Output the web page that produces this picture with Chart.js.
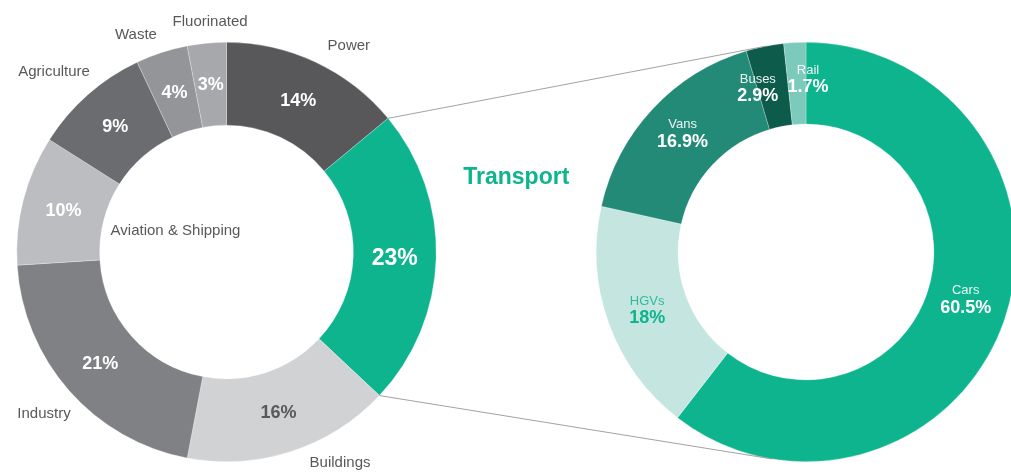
<!DOCTYPE html>
<html>
<head>
<meta charset="utf-8">
<script src="https://cdn.jsdelivr.net/npm/chart.js@4.4.0/dist/chart.umd.min.js"></script>
<style>
html,body{margin:0;padding:0;background:#fff;overflow:hidden;width:1011px;height:472px;}
.box{position:absolute;left:0;top:0;width:1030px;height:472px;}
</style>
</head>
<body>
<div class="box"><canvas id="sectorChart"></canvas></div>
<div class="box"><canvas id="transportChart"></canvas></div>
<script>
// emissions by sector (%)
var sectors=['Power','Transport','Buildings','Industry','Aviation & Shipping','Agriculture','Waste','Fluorinated'];
var sectorShare=[14,23,16,21,10,9,4,3];
var sectorColors=['#58585a','#0db48e','#d1d2d4','#808184','#bcbdc0','#6b6c6f','#939598','#a7a8ab'];

// transport split (%)
var modes=['Cars','HGVs','Vans','Buses','Rail'];
var modeShare=[60.5,18,16.9,2.9,1.7];
var modeColors=['#0db48e','#c5e6e0','#228a76','#0d5b4b','#7ccabc'];

var FONT='"Liberation Sans", Arial, Helvetica, sans-serif';
var GREY='#59595b';
var GREEN='#0db48e';

function arcInfo(arc){
  var p=arc.getProps(['x','y','startAngle','endAngle','innerRadius','outerRadius'],true);
  p.mid=(p.startAngle+p.endAngle)/2;
  return p;
}

var sectorLabels={
  id:'sectorLabels',
  afterDatasetsDraw:function(chart){
    var ctx=chart.ctx;
    var meta=chart.getDatasetMeta(0);
    // small hand nudges so the outside names sit like the original
    var nudge={'Power':[21,9],'Buildings':[40,-15],'Industry':[-4,4],'Agriculture':[-15,-2],'Waste':[-17,9],'Fluorinated':[6,7]};
    ctx.save();
    ctx.textAlign='center';
    ctx.textBaseline='middle';
    meta.data.forEach(function(arc,i){
      var a=arcInfo(arc);
      var r=(a.innerRadius+a.outerRadius)/2;
      var px=a.x+Math.cos(a.mid)*r, py=a.y+Math.sin(a.mid)*r;
      ctx.font='bold '+(sectors[i]=='Transport'?23:18)+'px '+FONT;
      ctx.fillStyle=sectors[i]=='Buildings'?GREY:'#fff';
      ctx.fillText(sectorShare[i]+'%',px,py+1);

      ctx.font='15px '+FONT;
      ctx.fillStyle=GREY;
      if(sectors[i]=='Aviation & Shipping'){
        ctx.textAlign='left';
        ctx.fillText(sectors[i],a.x+Math.cos(a.mid)*a.innerRadius+7,a.y+Math.sin(a.mid)*a.innerRadius+10);
        ctx.textAlign='center';
      }else if(nudge[sectors[i]]){
        var n=nudge[sectors[i]];
        ctx.fillText(sectors[i],a.x+Math.cos(a.mid)*238+n[0],a.y+Math.sin(a.mid)*238+n[1]);
      }
    });
    ctx.restore();
  }
};

var sectorChart=new Chart(document.getElementById('sectorChart'),{
  type:'doughnut',
  data:{
    labels:sectors,
    datasets:[{data:sectorShare,backgroundColor:sectorColors,borderWidth:0.6,borderColor:'rgba(255,255,255,0.45)'}]
  },
  options:{
    responsive:true,
    maintainAspectRatio:false,
    animation:false,
    cutout:'60.5%',
    layout:{padding:{left:16,right:593,top:42,bottom:10}},
    plugins:{legend:{display:false},tooltip:{enabled:false}}
  },
  plugins:[sectorLabels]
});

// tangent point from an outside point to a circle
function tangent(px,py,cx,cy,R,side){
  var dx=px-cx, dy=py-cy, d=Math.sqrt(dx*dx+dy*dy);
  var th=Math.atan2(dy,dx)+side*Math.acos(R/d);
  return [cx+Math.cos(th)*R, cy+Math.sin(th)*R];
}

var transportLabels={
  id:'transportLabels',
  afterDatasetsDraw:function(chart){
    var ctx=chart.ctx;
    var meta=chart.getDatasetMeta(0);
    var nudge={'Cars':[0,-4],'HGVs':[0,4],'Vans':[0,0],'Buses':[-15,5],'Rail':[11,-1]};
    ctx.save();
    ctx.textAlign='center';
    ctx.textBaseline='middle';
    var c0=null;
    meta.data.forEach(function(arc,i){
      var a=arcInfo(arc);
      c0=a;
      var r=(a.innerRadius+a.outerRadius)/2;
      var n=nudge[modes[i]];
      var px=a.x+Math.cos(a.mid)*r+n[0], py=a.y+Math.sin(a.mid)*r+n[1];
      var col=modes[i]=='HGVs'?GREEN:'#fff';
      ctx.fillStyle=modes[i]=='HGVs'?'#2dbb9a':'rgba(255,255,255,0.92)';
      ctx.font='13px '+FONT;
      ctx.fillText(modes[i],px,py-12);
      ctx.fillStyle=col;
      ctx.font='bold 18px '+FONT;
      ctx.fillText(modeShare[i]+'%',px,py+5);
    });

    // connector lines from the Transport slice to the second ring
    var t=arcInfo(sectorChart.getDatasetMeta(0).data[sectors.indexOf('Transport')]);
    var p1=[t.x+Math.cos(t.startAngle)*t.outerRadius,t.y+Math.sin(t.startAngle)*t.outerRadius];
    var p2=[t.x+Math.cos(t.endAngle)*t.outerRadius,t.y+Math.sin(t.endAngle)*t.outerRadius];
    var q1=tangent(p1[0],p1[1],c0.x,c0.y,c0.outerRadius,1);
    var q2=tangent(p2[0],p2[1],c0.x,c0.y,c0.outerRadius,-1);
    ctx.strokeStyle='#8a8a8c';
    ctx.lineWidth=0.8;
    ctx.beginPath();
    ctx.moveTo(p1[0],p1[1]);ctx.lineTo(q1[0],q1[1]);
    ctx.moveTo(p2[0],p2[1]);ctx.lineTo(q2[0],q2[1]);
    ctx.stroke();

    ctx.fillStyle=GREEN;
    ctx.font='bold 23px '+FONT;
    ctx.fillText('Transport',(t.x+c0.x)/2,c0.y-74);
    ctx.restore();
  }
};

var transportChart=new Chart(document.getElementById('transportChart'),{
  type:'doughnut',
  data:{
    labels:modes,
    datasets:[{data:modeShare,backgroundColor:modeColors,borderWidth:0.6,borderColor:'rgba(255,255,255,0.45)'}]
  },
  options:{
    responsive:true,
    maintainAspectRatio:false,
    animation:false,
    cutout:'61%',
    layout:{padding:{left:596,right:14,top:42,bottom:10}},
    plugins:{legend:{display:false},tooltip:{enabled:false}}
  },
  plugins:[transportLabels]
});
</script>
</body>
</html>
